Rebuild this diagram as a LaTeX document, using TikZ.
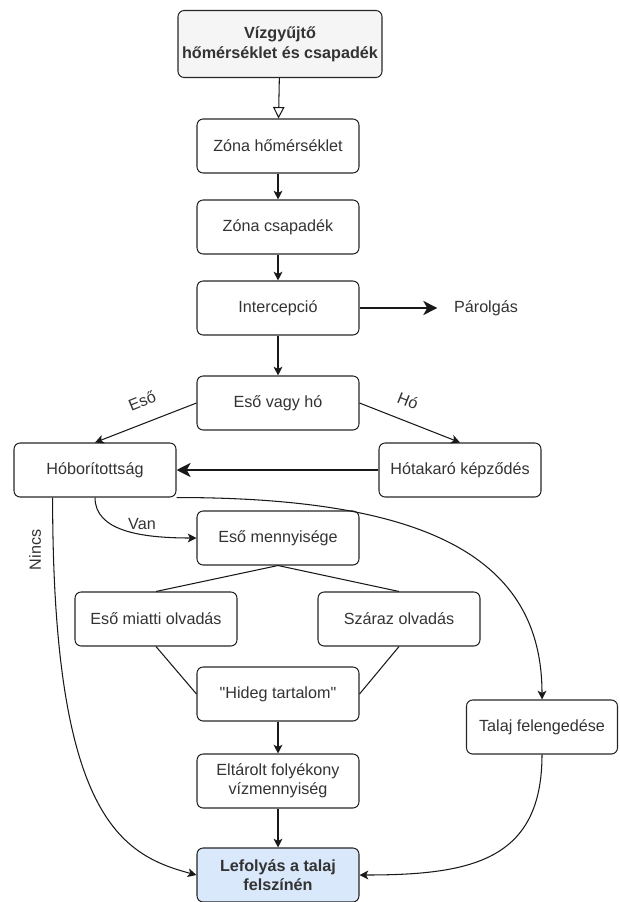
\documentclass[tikz,border=0pt]{standalone}
\usepackage{fontspec}
\setmainfont{Liberation Sans}
\usepackage{xcolor}
\usetikzlibrary{arrows.meta}
\definecolor{boxgray}{HTML}{F5F5F5}
\definecolor{boxblue}{HTML}{DAE8FC}

\begin{document}
\begin{tikzpicture}[x=0.02cm, y=-0.02cm,
  every node/.style={font=\fontsize{9.2}{10.8}\selectfont, text=black!80},
  box/.style={draw=black!85, line width=0.6pt, rounded corners=3.5pt, minimum width=3.24cm,
    minimum height=1.08cm, align=center, inner sep=1pt},
  arr/.style={draw=black!90, line width=0.6pt, -{Stealth[length=5pt,width=5pt,inset=1.3pt]}},
  thickarr/.style={draw=black!90, line width=1.2pt, -{Stealth[length=8pt,width=8pt,inset=2.2pt]}},
  openarr/.style={draw=black!90, line width=0.6pt, -{Triangle[open,length=6.5pt,width=6.5pt,fill=white]}},
  link/.style={draw=black!90, line width=0.6pt}]
\useasboundingbox (0,0) rectangle (619,902);

\node[box, fill=boxgray, minimum width=4.08cm, minimum height=1.34cm,
  font=\fontsize{9.2}{11.3}\selectfont\bfseries] (vizgyujto) at (280,44) {Vízgyűjtő\\hőmérséklet és csapadék};
\node[box] (zonahom) at (278,146) {Zóna hőmérséklet};
\node[box] (zonacsap) at (278,227) {Zóna csapadék};
\node[box] (interc) at (278,308) {Intercepció};
\node[inner sep=0pt, outer sep=9.5pt] (parolgas) at (486,308) {Párolgás};
\node[box] (esovagyho) at (278,403) {Eső vagy hó};
\node[box] (hobor) at (95,470) {Hóborítottság};
\node[box] (hotakaro) at (460,470) {Hótakaró képződés};
\node[box] (esomenny) at (278,538) {Eső mennyisége};
\node[box] (esoolvad) at (156,619) {Eső miatti olvadás};
\node[box] (szaraz) at (399,619) {Száraz olvadás};
\node[box] (hideg) at (278,694) {\textquotedbl Hideg tartalom\textquotedbl};
\node[box, minimum width=3.02cm] (talaj) at (542,727) {Talaj felengedése};
\node[box] (eltarolt) at (278,781) {Eltárolt folyékony\\vízmennyiség};
\node[box, fill=boxblue, font=\fontsize{9.2}{10.8}\selectfont\bfseries] (lefolyas) at (278,875) {Lefolyás a talaj\\felszínén};

\node[rotate=22, inner sep=1pt] (esolabel) at (142,401) {Eső};
\node[rotate=-22, inner sep=1pt] (holabel) at (408,401) {Hó};
\node[inner sep=1pt] (vanlabel) at (142,524) {Van};
\node[rotate=90, inner sep=1pt] (nincslabel) at (35,550) {Nincs};

\draw[openarr] (vizgyujto) -- (zonahom);
\draw[arr] (zonahom) -- (zonacsap);
\draw[arr] (zonacsap) -- (interc);
\draw[thickarr] (interc) -- (parolgas);
\draw[arr] (interc) -- (esovagyho);
\draw[arr] (esovagyho.west) -- (hobor.north);
\draw[arr] (esovagyho.east) -- (hotakaro.north);
\draw[thickarr] (hotakaro) -- (hobor);
\draw[arr] (hobor.south) .. controls +(0,33) and +(-57,0) .. (esomenny.west);
\draw[arr] (hobor.213) .. controls +(0,320) and +(-75,-20) .. (lefolyas.west);
\draw[arr] (hobor.south east) .. controls +(254,0) and +(0,-140) .. (talaj.north);
\draw[link] (esomenny.south) -- (esoolvad.north);
\draw[link] (esomenny.south) -- (szaraz.north);
\draw[link] (esoolvad.south) -- (hideg.west);
\draw[link] (szaraz.south) -- (hideg.east);
\draw[arr] (hideg) -- (eltarolt);
\draw[arr] (eltarolt) -- (lefolyas);
\draw[arr] (talaj.south) .. controls +(0,106) and +(112,0) .. (lefolyas.east);
\end{tikzpicture}
\end{document}
